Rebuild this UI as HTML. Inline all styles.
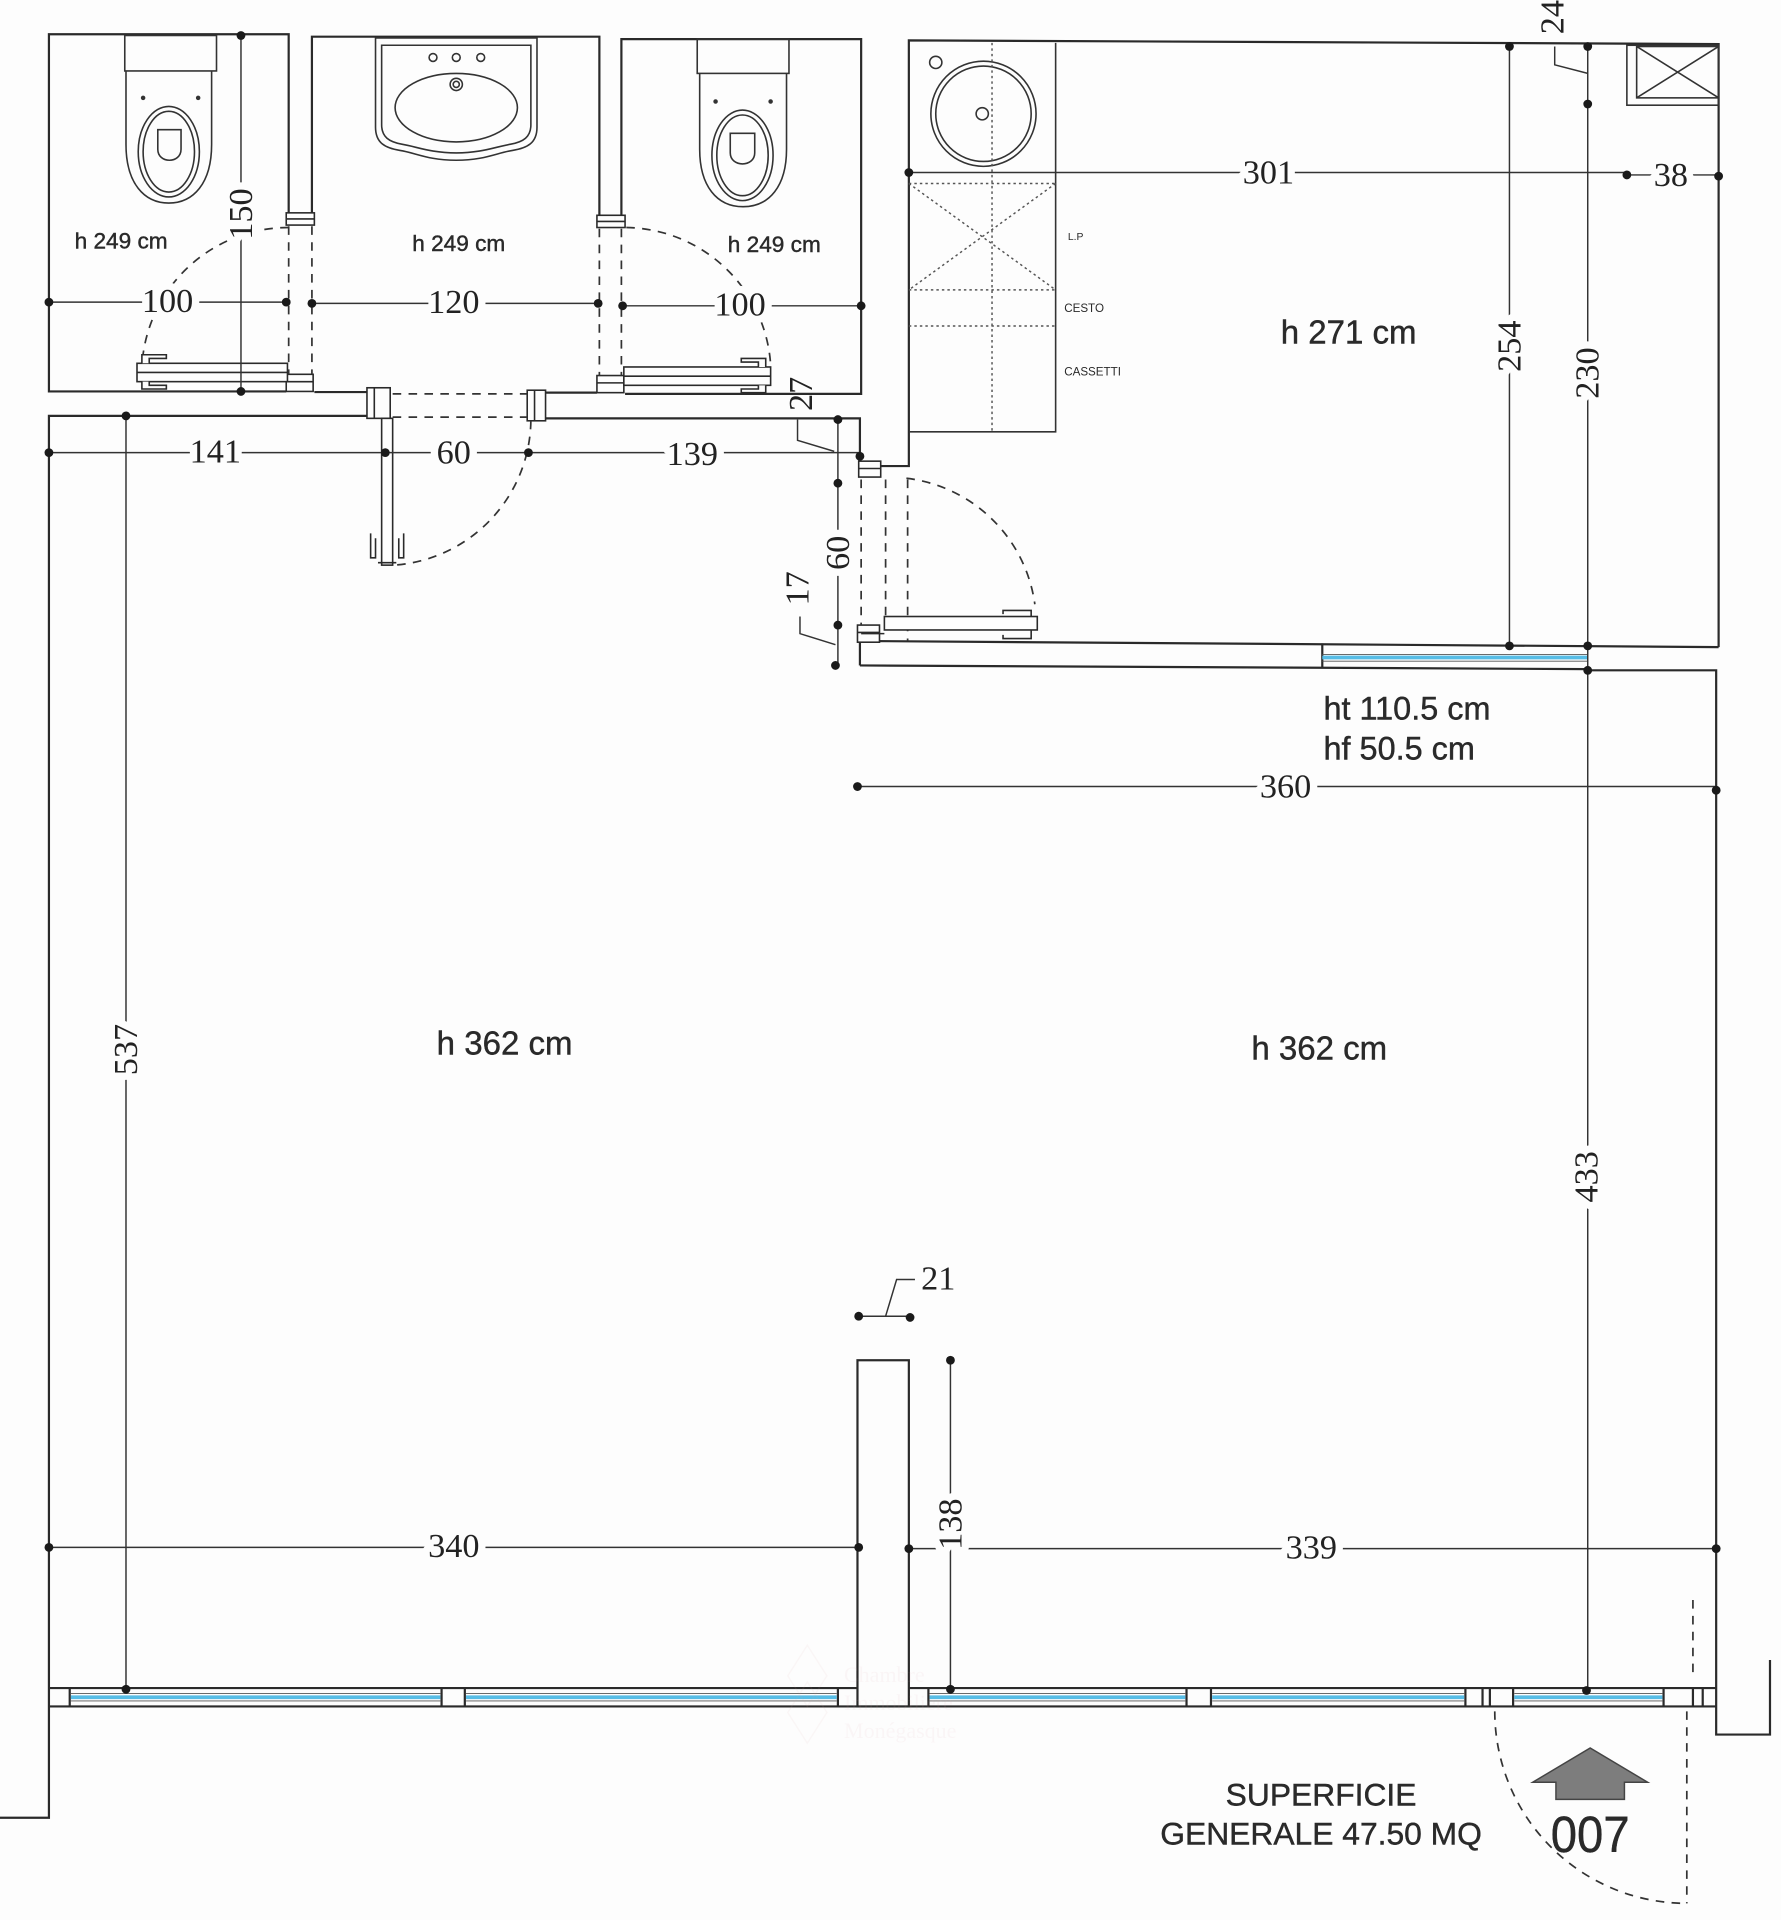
<!DOCTYPE html>
<html><head><meta charset="utf-8"><style>
html,body{margin:0;padding:0;background:#fdfdfd;}
svg{display:block;}
.d{font-family:"Liberation Serif",serif;font-size:28px;fill:#222;text-anchor:middle;dominant-baseline:central;stroke:#fdfdfd;stroke-width:12px;paint-order:stroke;stroke-linejoin:round;}
.s{font-family:"Liberation Sans",sans-serif;fill:#2a2a2a;stroke:#2a2a2a;stroke-width:0.35px;}
</style></head><body>
<svg width="1781" height="1920" viewBox="0 0 1456 1569.6" preserveAspectRatio="none" xmlns="http://www.w3.org/2000/svg">
<rect x="0" y="0" width="1456" height="1570" fill="#fdfdfd"/>

<!-- ===== WALLS ===== -->
<g fill="none" stroke="#2a2a2a" stroke-width="1.8">
  <path d="M236,175 V28 H40 V320 H234"/>
  <path d="M255,176 V30 H490 V176"/>
  <path d="M257,320.5 H300"/>
  <path d="M446,321 H488"/>
  <path d="M508,176 V32 H704 V322 H511"/>
  <path d="M300,340 H40 V1486 H0"/>
  <path d="M446,342 H703 V376"/>
  <path d="M720,381 H743 V33 L1405,36 V529"/>
  <path d="M703,524 L1405,529"/>
  <path d="M703,544 L1298,547 M1298,548 H1403 V1418 H1447 V1357"/>
  <path d="M703,524 V544"/>
  <path d="M1081,526 V546"/>
  <path d="M40,1380 H1403 M40,1395 H1403"/>
  <path d="M57,1380 V1395 M361,1380 V1395 M380,1380 V1395 M685,1380 V1395 M759,1380 V1395 M970,1380 V1395 M990,1380 V1395 M1198,1380 V1395 M1212,1380 V1395 M1218,1380 V1395 M1237,1380 V1395 M1360,1380 V1395 M1384,1380 V1395 M1392,1380 V1395"/>
  <rect x="701" y="1112" width="42" height="283" fill="#fdfdfd"/>
</g>

<g stroke="#57bde6" stroke-width="3" fill="none">
  <path d="M1081,537.5 H1298"/>
  <path d="M58,1387.5 H360 M381,1387.5 H684 M760,1387.5 H969 M991,1387.5 H1197 M1238,1387.5 H1359"/>
</g>
<g stroke="#555" stroke-width="0.7" fill="none">
  <path d="M1081,535 H1298 M1081,540.5 H1298"/>
  <path d="M58,1384.5 H360 M58,1390.5 H360 M381,1384.5 H684 M381,1390.5 H684 M760,1384.5 H969 M760,1390.5 H969 M991,1384.5 H1197 M991,1390.5 H1197 M1238,1384.5 H1359 M1238,1390.5 H1359"/>
</g>

<!-- ===== DOOR JAMBS ===== -->
<g fill="#fdfdfd" stroke="#2a2a2a" stroke-width="1.3">
  <rect x="234" y="174" width="23" height="10"/><path d="M234,179 H257" fill="none"/>
  <rect x="234" y="306" width="22" height="14"/><path d="M234,312 H256" fill="none"/>
  <rect x="488" y="176" width="23" height="10"/><path d="M488,181 H511" fill="none"/>
  <rect x="488" y="307" width="22" height="14"/><path d="M488,313 H510" fill="none"/>
  <rect x="300" y="317" width="19" height="25"/><path d="M306,317 V342" fill="none"/>
  <rect x="431" y="319" width="15" height="25"/><path d="M437,319 V344" fill="none"/>
  <rect x="702" y="377" width="18" height="13"/><path d="M702,383 H720" fill="none"/>
  <rect x="701" y="511" width="18" height="14"/><path d="M701,517 H719" fill="none"/>
</g>

<!-- ===== DASHED DOOR LINES / ARCS ===== -->
<g fill="none" stroke="#333" stroke-width="1.4" stroke-dasharray="7,6">
  <path d="M236,185 V306 M255,185 V306"/>
  <path d="M490,187 V307 M508,187 V307"/>
  <path d="M321,322 H431 M321,341 H431"/>
  <path d="M704,392 V511 M724,392 V511 M742,392 V524"/>
  <path d="M236,186 A120,120 0 0 0 116,300"/>
  <path d="M512,186 A120,120 0 0 1 630,298"/>
  <path d="M434,344 A120,120 0 0 1 322,462"/>
  <path d="M741,391 A120,120 0 0 1 846,494"/>
  <path d="M1222,1399 A157,157 0 0 0 1379,1556"/>
  <path d="M1379,1399 V1556"/>
  <path d="M1384,1308 V1371"/>
</g>

<!-- ===== DOOR LEAVES ===== -->
<g fill="#fdfdfd" stroke="#2a2a2a" stroke-width="1.3">
  <rect x="112" y="297" width="123" height="15"/>
  <path d="M112,304.5 H235" fill="none"/>
  <path d="M116,297 V290 H136 V293 H122 V297" />
  <path d="M116,312 V318 H136 V315 H122 V312" />
  <rect x="510" y="300" width="120" height="15"/>
  <path d="M510,307.5 H630" fill="none"/>
  <path d="M626,300 V293 H606 V296 H620 V300"/>
  <path d="M626,315 V321 H606 V318 H620 V315"/>
  <rect x="312" y="342" width="9" height="120"/>
  <path d="M303,436 V456 H307 V440 M330,436 V456 H326 V440" fill="none"/>
  <path d="M309,460 H324" fill="none"/>
  <rect x="723" y="504" width="125" height="11"/>
  <path d="M843,504 V499 H820 V502 M843,515 V522 H820 V519" fill="none"/>
  <path d="M704,518 H723" fill="none"/>
</g>

<!-- ===== FIXTURES ===== -->
<g fill="none" stroke="#333" stroke-width="1.3">
  <rect x="102" y="29" width="75" height="29"/>
  <path d="M103,58 V118 C103,150 118,166 138,166 C158,166 173,150 173,118 V58"/>
  <ellipse cx="138" cy="124" rx="25" ry="37"/>
  <ellipse cx="138" cy="124" rx="21" ry="33"/>
  <path d="M129,106 V122 C129,134 148,134 148,122 V106 Z"/>
  <circle cx="117" cy="80" r="1.2" fill="#333"/>
  <circle cx="162" cy="80" r="1.2" fill="#333"/>
  <rect x="570" y="32" width="75" height="28"/>
  <path d="M572,60 V122 C572,152 586,169 607.5,169 C629,169 643,152 643,122 V60"/>
  <ellipse cx="607" cy="127" rx="25" ry="37"/>
  <ellipse cx="607" cy="127" rx="21" ry="33"/>
  <path d="M597,109 V125 C597,137 617,137 617,125 V109 Z"/>
  <circle cx="585" cy="83" r="1.2" fill="#333"/>
  <circle cx="630" cy="83" r="1.2" fill="#333"/>
  <path d="M307,31 H439 V104 C439,117 431,121 419,123 C406,125 396,131 373,131 C350,131 340,125 327,123 C315,121 307,117 307,104 Z"/>
  <path d="M312,37 H434 V102 C434,112 428,116 417,118 C405,120 394,125 373,125 C352,125 341,120 329,118 C318,116 312,112 312,102 Z"/>
  <ellipse cx="373" cy="88" rx="50" ry="28"/>
  <circle cx="354" cy="47" r="3.2"/>
  <circle cx="373" cy="47" r="3.2"/>
  <circle cx="393" cy="47" r="3.2"/>
  <circle cx="373" cy="69" r="5"/>
  <circle cx="373" cy="69" r="2.5"/>
  <path d="M863,35 V353 H743"/>
  <circle cx="804" cy="93" r="43"/>
  <circle cx="804" cy="93" r="39"/>
  <circle cx="765" cy="51" r="5"/>
  <circle cx="803" cy="93" r="5"/>
  <rect x="1330" y="37" width="75" height="49"/>
  <rect x="1338" y="38" width="67" height="42"/>
  <path d="M1338,38 L1405,80 M1405,38 L1338,80"/>
</g>
<g fill="none" stroke="#555" stroke-width="1.2" stroke-dasharray="2,2.5">
  <path d="M811,35 V353"/>
  <path d="M743,150 H863 M743,237 H863 M743,266.5 H863"/>
  <path d="M743,150 L863,237 M863,150 L743,237"/>
</g>

<!-- ===== DIMENSION LINES ===== -->
<g fill="none" stroke="#333" stroke-width="1.2">
  <path d="M197,28 V321"/>
  <path d="M40,247 H234"/>
  <path d="M255,248 H489"/>
  <path d="M509,250 H704"/>
  <path d="M40,370 H703"/>
  <path d="M103,340 V1381"/>
  <path d="M685,343 V544"/>
  <path d="M652,343 V360 L682,369"/>
  <path d="M654,504 V518 L683,527"/>
  <path d="M743,141 H1330 M1330,143 H1405"/>
  <path d="M1234,37 V528"/>
  <path d="M1298,37 V1383"/>
  <path d="M1271,38 V53 L1298,60"/>
  <path d="M701,643 H1403"/>
  <path d="M40,1265 H702"/>
  <path d="M743,1266 H1403"/>
  <path d="M777,1112 V1382"/>
  <path d="M702,1076 H744"/>
  <path d="M724,1076 L733,1046 H748"/>
</g>
<g fill="#1a1a1a">
  <circle cx="197" cy="29" r="3.6"/><circle cx="197" cy="320" r="3.6"/>
  <circle cx="40" cy="247" r="3.6"/><circle cx="234" cy="247" r="3.6"/>
  <circle cx="255" cy="248" r="3.6"/><circle cx="489" cy="248" r="3.6"/>
  <circle cx="509" cy="250" r="3.6"/><circle cx="704" cy="250" r="3.6"/>
  <circle cx="40" cy="370" r="3.6"/><circle cx="315" cy="370" r="3.6"/><circle cx="432" cy="370" r="3.6"/><circle cx="703" cy="373" r="3.6"/>
  <circle cx="103" cy="340" r="3.6"/><circle cx="103" cy="1381" r="3.6"/>
  <circle cx="685" cy="343" r="3.6"/><circle cx="685" cy="395" r="3.6"/><circle cx="685" cy="511" r="3.6"/><circle cx="683" cy="544" r="3.6"/>
  <circle cx="743" cy="141" r="3.6"/><circle cx="1330" cy="143" r="3.6"/><circle cx="1405" cy="144" r="3.6"/>
  <circle cx="1234" cy="38" r="3.6"/><circle cx="1234" cy="528" r="3.6"/>
  <circle cx="1298" cy="38" r="3.6"/><circle cx="1298" cy="85" r="3.6"/><circle cx="1298" cy="528" r="3.6"/><circle cx="1298" cy="548" r="3.6"/><circle cx="1297" cy="1382" r="3.6"/>
  <circle cx="701" cy="643" r="3.6"/><circle cx="1403" cy="646" r="3.6"/>
  <circle cx="40" cy="1265" r="3.6"/><circle cx="702" cy="1265" r="3.6"/>
  <circle cx="743" cy="1266" r="3.6"/><circle cx="1403" cy="1266" r="3.6"/>
  <circle cx="777" cy="1112" r="3.6"/><circle cx="777" cy="1381" r="3.6"/>
  <circle cx="702" cy="1076" r="3.6"/><circle cx="744" cy="1077" r="3.6"/>
</g>

<!-- ===== DIMENSION LABELS ===== -->
<text class="d" x="137" y="246">100</text>
<text class="d" x="371" y="247">120</text>
<text class="d" x="605" y="249">100</text>
<text class="d" x="176" y="369">141</text>
<text class="d" x="371" y="370">60</text>
<text class="d" x="566" y="371">139</text>
<text class="d" x="1037" y="141">301</text>
<text class="d" x="1366" y="143">38</text>
<text class="d" x="1051" y="643">360</text>
<text class="d" x="371" y="1264">340</text>
<text class="d" x="1072" y="1265">339</text>
<text class="d" x="767" y="1045" style="stroke-width:0">21</text>
<text class="d" transform="translate(197,175) rotate(-90)">150</text>
<text class="d" transform="translate(103,858) rotate(-90)">537</text>
<text class="d" transform="translate(1234,283) rotate(-90)">254</text>
<text class="d" transform="translate(1298,305) rotate(-90)">230</text>
<text class="d" transform="translate(1297,962) rotate(-90)">433</text>
<text class="d" transform="translate(777,1246) rotate(-90)">138</text>
<text class="d" transform="translate(685,452) rotate(-90)">60</text>
<text class="d" transform="translate(652,481) rotate(-90)" style="stroke-width:0">17</text>
<text class="d" transform="translate(655,322) rotate(-90)" style="stroke-width:0">27</text>
<text class="d" transform="translate(1269,14) rotate(-90)" style="stroke-width:0">24</text>

<!-- ===== ROOM LABELS ===== -->
<g class="s">
  <text x="61" y="203" font-size="18.5">h 249 cm</text>
  <text x="337" y="205" font-size="18.5">h 249 cm</text>
  <text x="595" y="206" font-size="18.5">h 249 cm</text>
  <text x="1047" y="281" font-size="27">h 271 cm</text>
  <text x="357" y="862" font-size="27">h 362 cm</text>
  <text x="1023" y="866" font-size="27">h 362 cm</text>
  <text x="1082" y="588" font-size="26.5">ht 110.5 cm</text>
  <text x="1082" y="621" font-size="26.5">hf 50.5 cm</text>
  <text x="873" y="196" font-size="8.5" style="stroke-width:0">L.P</text>
  <text x="870" y="255" font-size="9.5" style="stroke-width:0">CESTO</text>
  <text x="870" y="307" font-size="9.5" style="stroke-width:0">CASSETTI</text>
  <text x="1080" y="1476" font-size="26" text-anchor="middle">SUPERFICIE</text>
  <text x="1080" y="1508" font-size="26" text-anchor="middle">GENERALE 47.50 MQ</text>
  <text x="1300" y="1514" font-size="42" text-anchor="middle" transform="translate(1300,0) scale(0.92,1) translate(-1300,0)">007</text>
</g>

<polygon points="1253,1457 1300,1429 1347,1457 1328,1457 1328,1471 1272,1471 1272,1457" fill="#7d7d7d" stroke="#444" stroke-width="1.2"/>

<!-- faint watermark -->
<g opacity="0.08" fill="none" stroke="#d9a0a8" stroke-width="1.2">
  <path d="M660,1345 L676,1370 L660,1395 L644,1370 Z M660,1375 L676,1400 L660,1425 L644,1400 Z"/>
</g>
<g opacity="0.08" fill="#d9a0a8" font-size="18">
  <text x="690" y="1375" style="font-family:'Liberation Serif',serif">Chambre</text>
  <text x="690" y="1398" style="font-family:'Liberation Serif',serif">Immobilière</text>
  <text x="690" y="1421" style="font-family:'Liberation Serif',serif">Monégasque</text>
</g>
</svg>
</body></html>
